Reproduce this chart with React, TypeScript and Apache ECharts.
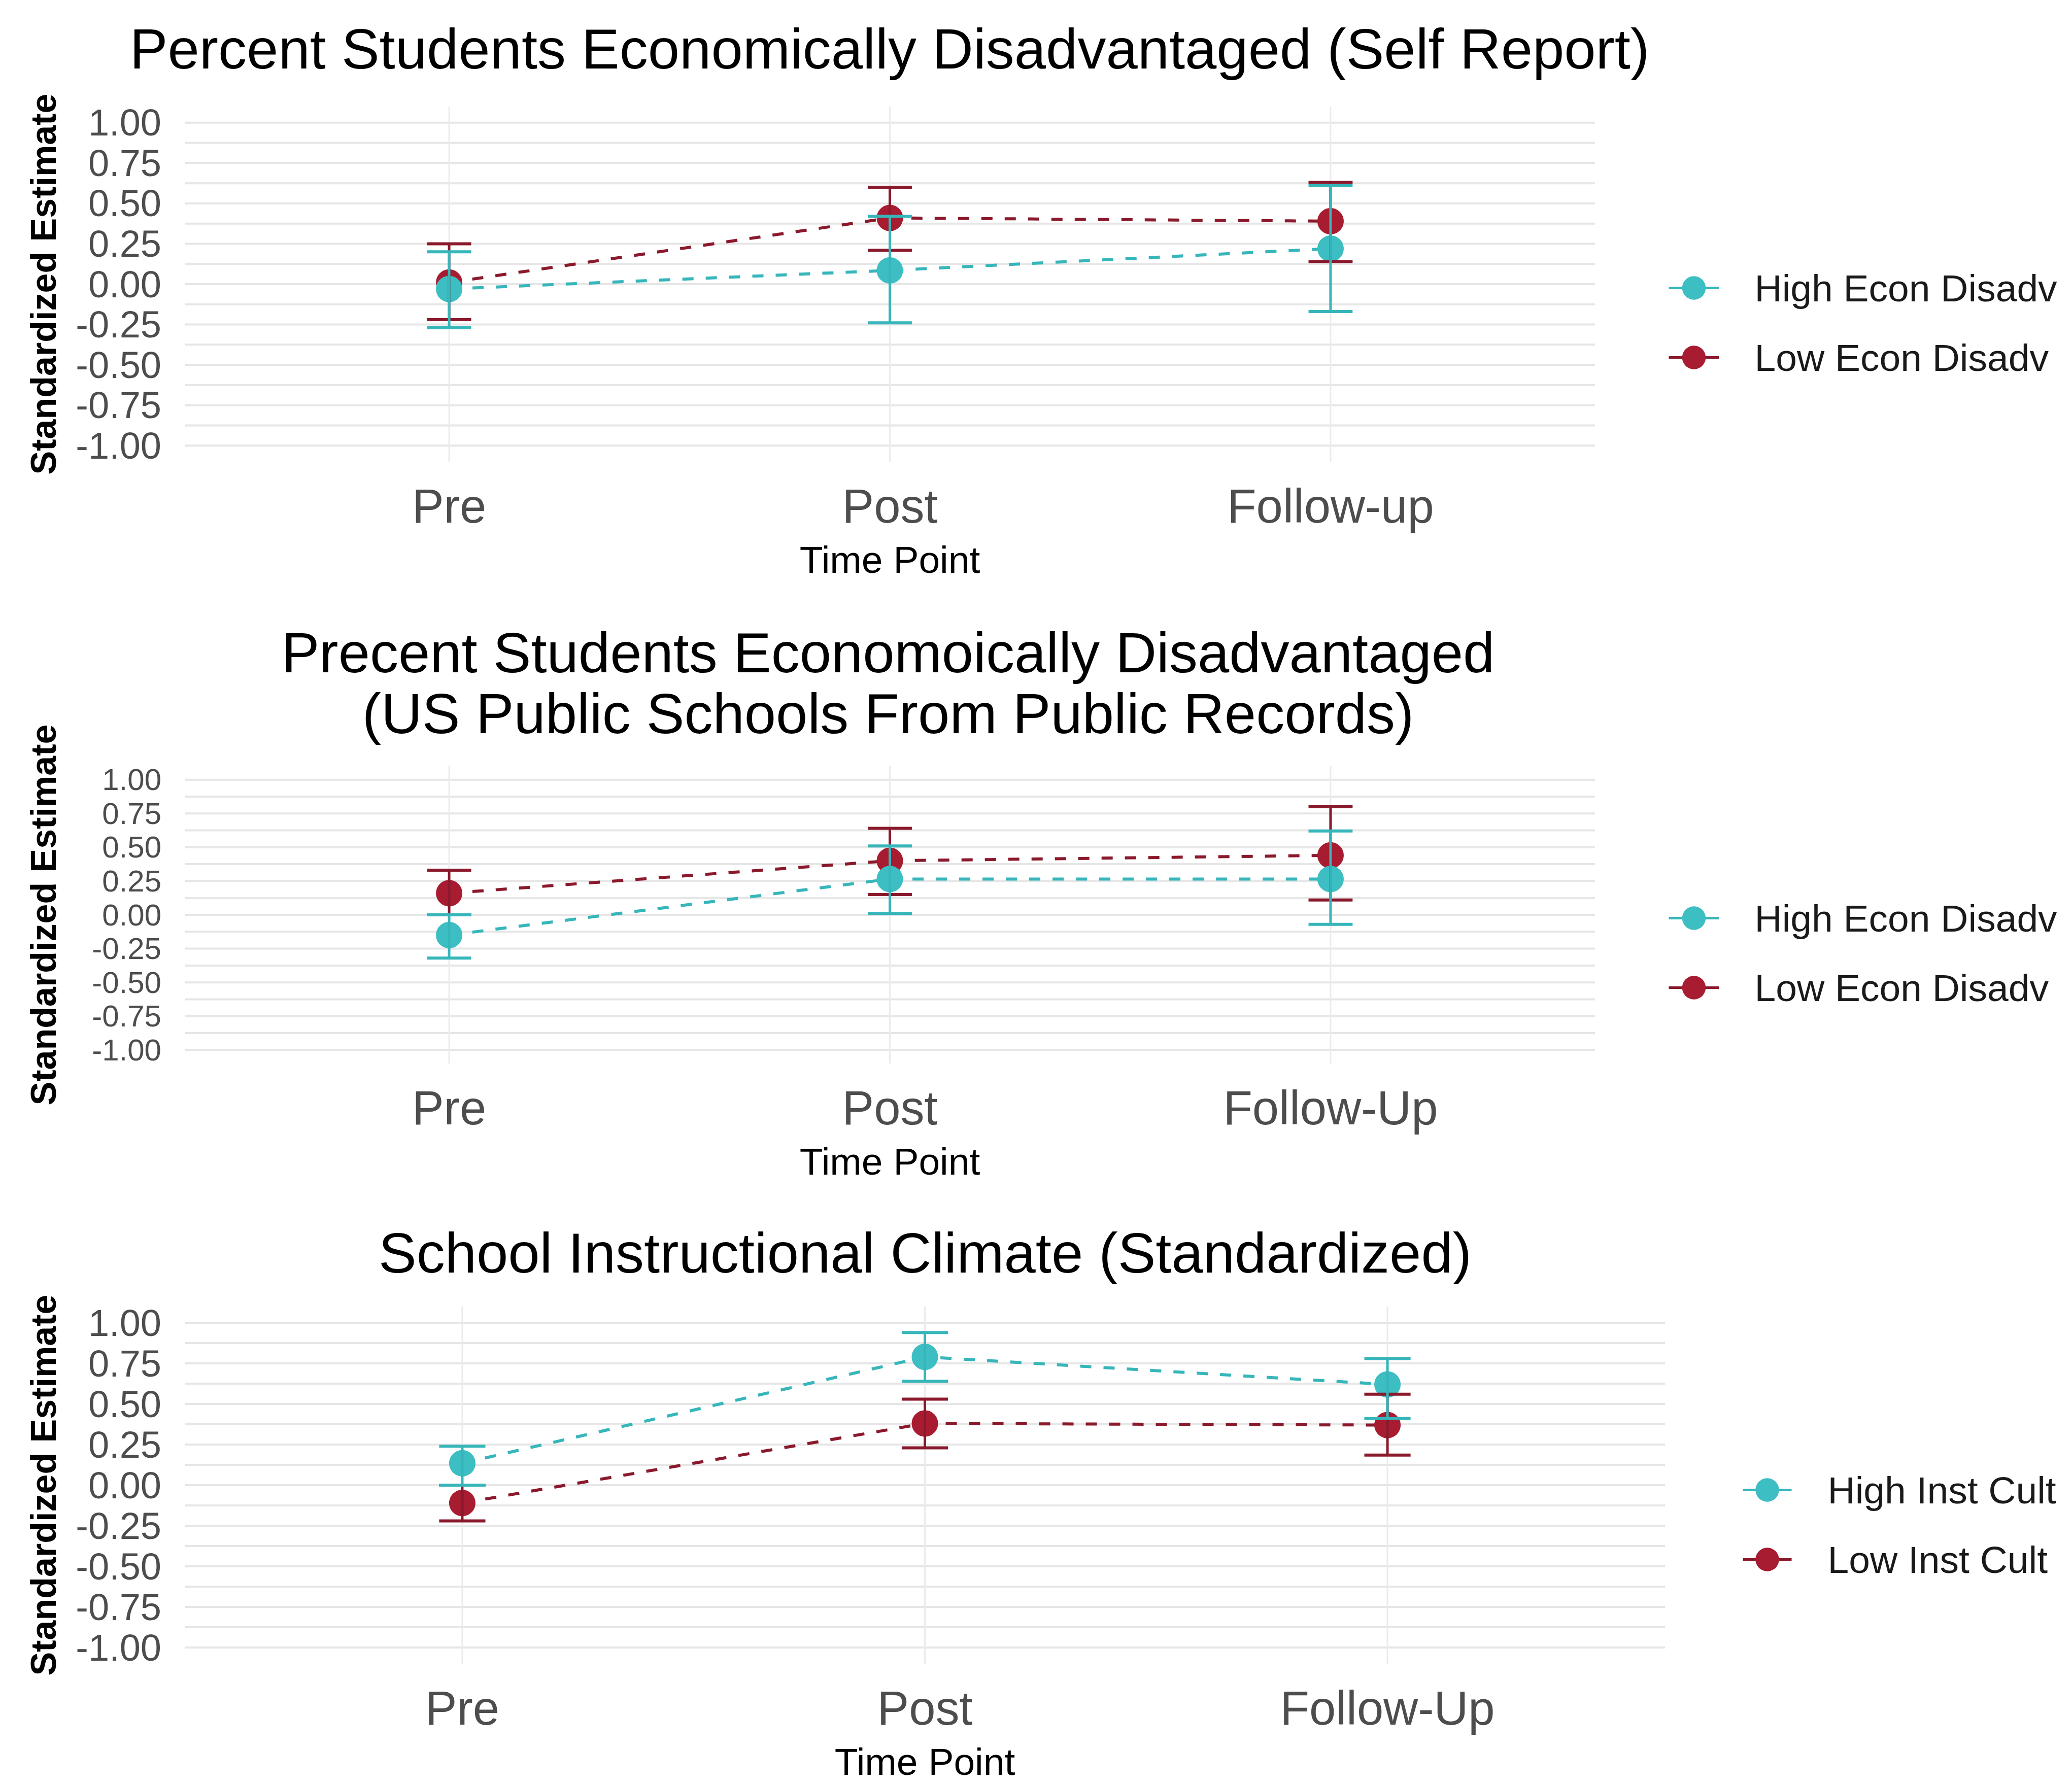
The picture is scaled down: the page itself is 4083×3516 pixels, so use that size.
import React, { useEffect, useRef } from "react";
import * as echarts from "echarts";

// ---------- data ----------
const timeLabelsSelf = ["Pre", "Post", "Follow-up"];
const timeLabelsPublic = ["Pre", "Post", "Follow-Up"];
const timeLabelsInst = ["Pre", "Post", "Follow-Up"];
const timePositions = [1, 2, 3];

const yTickValues = [-1, -0.75, -0.5, -0.25, 0, 0.25, 0.5, 0.75, 1];
const yGridValues = [
  -1, -0.875, -0.75, -0.625, -0.5, -0.375, -0.25, -0.125, 0,
  0.125, 0.25, 0.375, 0.5, 0.625, 0.75, 0.875, 1,
];

const titleSelf = "Percent Students Economically Disadvantaged (Self Report)";
const titlePublic =
  "Precent Students Economoically Disadvantaged\n(US Public Schools From Public Records)";
const titleInst = "School Instructional Climate (Standardized)";

const groupsEcon = ["High Econ Disadv", "Low Econ Disadv"];
const groupsInst = ["High Inst Cult", "Low Inst Cult"];

// Panel 1: self report
const selfHighEst = [-0.03, 0.085, 0.22];
const selfHighLo = [-0.27, -0.24, -0.17];
const selfHighHi = [0.2, 0.42, 0.61];
const selfLowEst = [0.01, 0.41, 0.39];
const selfLowLo = [-0.22, 0.21, 0.14];
const selfLowHi = [0.25, 0.6, 0.63];

// Panel 2: public records
const pubHighEst = [-0.15, 0.265, 0.265];
const pubHighLo = [-0.32, 0.01, -0.07];
const pubHighHi = [0.0, 0.51, 0.62];
const pubLowEst = [0.16, 0.4, 0.44];
const pubLowLo = [0.0, 0.15, 0.11];
const pubLowHi = [0.33, 0.64, 0.8];

// Panel 3: instructional climate
const instHighEst = [0.135, 0.79, 0.62];
const instHighLo = [0.0, 0.64, 0.41];
const instHighHi = [0.24, 0.94, 0.78];
const instLowEst = [-0.11, 0.38, 0.37];
const instLowLo = [-0.22, 0.23, 0.185];
const instLowHi = [0.0, 0.53, 0.56];

// ---------- style ----------
const FONT = "Liberation Sans, Arial, Helvetica, sans-serif";
const TEAL = "#3CBEC2";
const TEAL_LINE = "#36B6BA";
const RED = "#A81C31";
const RED_LINE = "#8A192C";
const GRID_COLOR = "#E6E6E6";
const CAP = 0.05;

type Panel = {
  title: string;
  titleX: number;
  titleTop: number;
  labels: string[];
  groups: string[];
  high: [number[], number[], number[]];
  low: [number[], number[], number[]];
  grid: { left: number; top: number; width: number; height: number };
  yLabelSize: number;
  legendLeft: number;
  legendTop: number;
  legendItemWidth: number;
  legendPad: number;
};

const panels: Panel[] = [
  {
    title: titleSelf,
    titleX: 1753,
    titleTop: 36,
    labels: timeLabelsSelf,
    groups: groupsEcon,
    high: [selfHighEst, selfHighLo, selfHighHi],
    low: [selfLowEst, selfLowLo, selfLowHi],
    grid: { left: 364, top: 210, width: 2779, height: 700 },
    yLabelSize: 74,
    legendLeft: 3286,
    legendTop: 530,
    legendItemWidth: 99,
    legendPad: 65,
  },
  {
    title: titlePublic,
    titleX: 1750,
    titleTop: 1226,
    labels: timeLabelsPublic,
    groups: groupsEcon,
    high: [pubHighEst, pubHighLo, pubHighHi],
    low: [pubLowEst, pubLowLo, pubLowHi],
    grid: { left: 364, top: 1510, width: 2779, height: 586 },
    yLabelSize: 60,
    legendLeft: 3286,
    legendTop: 1772,
    legendItemWidth: 99,
    legendPad: 65,
  },
  {
    title: titleInst,
    titleX: 1823,
    titleTop: 2409,
    labels: timeLabelsInst,
    groups: groupsInst,
    high: [instHighEst, instHighLo, instHighHi],
    low: [instLowEst, instLowLo, instLowHi],
    grid: { left: 364, top: 2575, width: 2917, height: 704 },
    yLabelSize: 74,
    legendLeft: 3432,
    legendTop: 2899,
    legendItemWidth: 96,
    legendPad: 66,
  },
];

function errorBarRender(color: string) {
  return (params: any, api: any) => {
    const x = api.value(0);
    const lo = api.value(1);
    const hi = api.value(2);
    const pLo = api.coord([x, lo]);
    const pHi = api.coord([x, hi]);
    const lLo = api.coord([x - CAP, lo]);
    const rLo = api.coord([x + CAP, lo]);
    const lHi = api.coord([x - CAP, hi]);
    const rHi = api.coord([x + CAP, hi]);
    const st = { stroke: color, lineWidth: 5 };
    const cs = { stroke: color, lineWidth: 6 };
    return {
      type: "group",
      children: [
        { type: "line", shape: { x1: pLo[0], y1: pLo[1], x2: pHi[0], y2: pHi[1] }, style: st },
        { type: "line", shape: { x1: lLo[0], y1: lLo[1], x2: rLo[0], y2: rLo[1] }, style: cs },
        { type: "line", shape: { x1: lHi[0], y1: lHi[1], x2: rHi[0], y2: rHi[1] }, style: cs },
      ],
    };
  };
}

function buildOption() {
  const grid: any[] = [];
  const xAxis: any[] = [];
  const yAxis: any[] = [];
  const series: any[] = [];
  const title: any[] = [];
  const legend: any[] = [];

  panels.forEach((p, i) => {
    grid.push({ ...p.grid, containLabel: false });
    xAxis.push({
      type: "value",
      gridIndex: i,
      min: 0.4,
      max: 3.6,
      axisLine: { show: false },
      axisTick: { show: false },
      splitLine: { show: false },
      axisLabel: {
        customValues: timePositions,
        formatter: (v: number) => p.labels[Math.round(v) - 1] ?? "",
        fontSize: 94,
        color: "#4D4D4D",
        fontFamily: FONT,
        margin: 40,
      },
      name: "Time Point",
      nameLocation: "middle",
      nameGap: 155,
      nameTextStyle: { fontSize: 75, color: "#000", fontFamily: FONT },
    });
    yAxis.push({
      type: "value",
      gridIndex: i,
      min: -1.1,
      max: 1.1,
      axisLine: { show: false },
      axisTick: { show: false },
      splitLine: { show: false },
      axisLabel: {
        customValues: yTickValues,
        showMinLabel: true,
        showMaxLabel: true,
        hideOverlap: false,
        formatter: (v: number) => v.toFixed(2),
        fontSize: p.yLabelSize,
        lineHeight: p.yLabelSize,
        color: "#4D4D4D",
        fontFamily: FONT,
        margin: 46,
      },
      name: "Standardized Estimate",
      nameLocation: "middle",
      nameRotate: 90,
      nameGap: 243,
      nameTextStyle: { fontSize: 70, fontWeight: "bold", color: "#000", fontFamily: FONT },
    });

    // horizontal grid lines
    series.push({
      type: "custom",
      xAxisIndex: i,
      yAxisIndex: i,
      silent: true,
      z: 0,
      data: yGridValues.map((v) => [v]),
      encode: { y: 0 },
      renderItem: (params: any, api: any) => {
        const v = api.value(0);
        const a = api.coord([0.4, v]);
        const b = api.coord([3.6, v]);
        return {
          type: "line",
          shape: { x1: a[0], y1: a[1], x2: b[0], y2: b[1] },
          style: { stroke: GRID_COLOR, lineWidth: 4 },
        };
      },
    });
    // vertical grid lines
    series.push({
      type: "custom",
      xAxisIndex: i,
      yAxisIndex: i,
      silent: true,
      z: 0,
      data: timePositions.map((v) => [v]),
      encode: { x: 0 },
      renderItem: (params: any, api: any) => {
        const v = api.value(0);
        const a = api.coord([v, -1.1]);
        const b = api.coord([v, 1.1]);
        return {
          type: "line",
          shape: { x1: a[0], y1: a[1], x2: b[0], y2: b[1] },
          style: { stroke: "#EBEBEB", lineWidth: 3 },
        };
      },
    });

    const groupDefs = [
      { name: p.groups[1], vals: p.low, color: RED, line: RED_LINE },
      { name: p.groups[0], vals: p.high, color: TEAL, line: TEAL_LINE },
    ];
    groupDefs.forEach((g) => {
      series.push({
        type: "line",
        name: g.name,
        xAxisIndex: i,
        yAxisIndex: i,
        z: 2,
        data: timePositions.map((x, k) => [x, g.vals[0][k]]),
        symbol: "circle",
        symbolSize: 52,
        showSymbol: true,
        itemStyle: { color: g.color },
        lineStyle: { color: g.line, width: 6, type: [22, 24] },
        emphasis: { disabled: true },
      });
    });
    groupDefs.forEach((g) => {
      series.push({
        type: "custom",
        name: g.name + " CI",
        xAxisIndex: i,
        yAxisIndex: i,
        z: 3,
        silent: true,
        data: timePositions.map((x, k) => [x, g.vals[1][k], g.vals[2][k]]),
        encode: { x: 0, y: [1, 2] },
        renderItem: errorBarRender(g.line),
      });
    });

    title.push({
      text: p.title,
      left: p.titleX,
      top: p.titleTop,
      textAlign: "center",
      padding: 0,
      textStyle: {
        fontSize: 112,
        fontWeight: "normal",
        color: "#000",
        fontFamily: FONT,
        lineHeight: 120,
      },
    });

    legend.push({
      data: [p.groups[0], p.groups[1]],
      orient: "vertical",
      left: p.legendLeft,
      top: p.legendTop,
      padding: 0,
      itemWidth: p.legendItemWidth,
      itemHeight: 58,
      itemGap: 62,
      selectedMode: false,
      lineStyle: { type: "solid", width: 5 },
      textStyle: {
        fontSize: 75,
        lineHeight: 58,
        color: "#1A1A1A",
        fontFamily: FONT,
        padding: [0, 0, 0, p.legendPad],
      },
    });
  });

  return {
    animation: false,
    backgroundColor: "#FFFFFF",
    textStyle: { fontFamily: FONT },
    title,
    legend,
    grid,
    xAxis,
    yAxis,
    series,
  };
}

export default function App() {
  const ref = useRef<HTMLDivElement | null>(null);
  useEffect(() => {
    document.body.style.margin = "0";
    if (!ref.current) return;
    const chart = echarts.init(ref.current, undefined, { renderer: "svg" });
    chart.setOption(buildOption() as any);
    return () => chart.dispose();
  }, []);
  return <div ref={ref} style={{ width: 4083, height: 3516, background: "#fff" }} />;
}
